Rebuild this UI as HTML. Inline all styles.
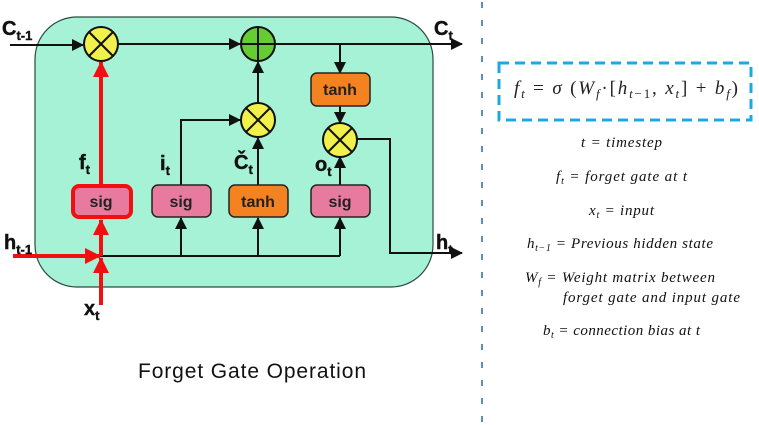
<!DOCTYPE html>
<html><head><meta charset="utf-8"><style>
html,body{margin:0;padding:0;background:#fff;width:759px;height:425px;overflow:hidden}
svg{display:block}
.lb{font-family:"Liberation Sans",sans-serif;font-weight:bold;fill:#111;stroke:#111;stroke-width:0.4}
.bx{font-family:"Liberation Sans",sans-serif;font-weight:bold;font-size:16px;fill:#222}
.m{font-family:"Liberation Serif",serif;font-style:italic;font-size:15px;fill:#111}
</style></head><body>
<svg width="759" height="425" viewBox="0 0 759 425" xmlns="http://www.w3.org/2000/svg">
<defs>
<marker id="a" markerWidth="12" markerHeight="12" refX="11" refY="6" orient="auto" markerUnits="userSpaceOnUse"><path d="M0,0 L12,6 L0,12 Z" fill="#111"/></marker>
<marker id="r" markerWidth="16" markerHeight="16" refX="15" refY="8" orient="auto" markerUnits="userSpaceOnUse"><path d="M0,0 L16,8 L0,16 Z" fill="#f01010"/></marker>
</defs>
<rect x="35" y="17" width="398" height="270" rx="42" fill="#a6f2d6" stroke="#2a4a40" stroke-width="1.2"/>
<g stroke="#111" stroke-width="2" fill="none">
<line x1="10" y1="45" x2="83" y2="45" marker-end="url(#a)"/>
<line x1="119" y1="44" x2="240" y2="44" marker-end="url(#a)"/>
<line x1="276" y1="44" x2="462" y2="44" marker-end="url(#a)"/>
<line x1="340" y1="44" x2="340" y2="73" marker-end="url(#a)"/>
<line x1="340" y1="106" x2="340" y2="123" marker-end="url(#a)"/>
<polyline points="357,139 390,139 390,253 462,253" marker-end="url(#a)"/>
<line x1="258" y1="103" x2="258" y2="62" marker-end="url(#a)"/>
<polyline points="181,185 181,120 240,120" marker-end="url(#a)"/>
<line x1="258" y1="185" x2="258" y2="138" marker-end="url(#a)"/>
<line x1="340" y1="185" x2="340" y2="157" marker-end="url(#a)"/>
<line x1="100" y1="256" x2="340" y2="256"/>
<line x1="181" y1="256" x2="181" y2="218" marker-end="url(#a)"/>
<line x1="258" y1="256" x2="258" y2="218" marker-end="url(#a)"/>
<line x1="340" y1="256" x2="340" y2="218" marker-end="url(#a)"/>
</g>
<g stroke="#f01010" stroke-width="4" fill="none">
<line x1="13" y1="256" x2="100" y2="256" marker-end="url(#r)"/>
<line x1="101" y1="305" x2="101" y2="258" marker-end="url(#r)"/>
<line x1="101" y1="256" x2="101" y2="220" marker-end="url(#r)"/>
<line x1="101" y1="185" x2="101" y2="62" marker-end="url(#r)"/>
</g>
<g stroke="#111" stroke-width="2">
<circle cx="101" cy="44" r="17" fill="#f2f04a"/>
<line x1="89" y1="32" x2="113" y2="56"/><line x1="113" y1="32" x2="89" y2="56"/>
<circle cx="258" cy="44" r="17" fill="#66cc33"/>
<line x1="258" y1="27" x2="258" y2="61"/><line x1="241" y1="44" x2="275" y2="44"/>
<circle cx="258" cy="120" r="17" fill="#f2f04a"/>
<line x1="246" y1="108" x2="270" y2="132"/><line x1="270" y1="108" x2="246" y2="132"/>
<circle cx="340" cy="140" r="17" fill="#f2f04a"/>
<line x1="328" y1="128" x2="352" y2="152"/><line x1="352" y1="128" x2="328" y2="152"/>
</g>
<rect x="73" y="186" width="58" height="31" rx="6" fill="#e87aa0" stroke="#f01010" stroke-width="4"/>
<rect x="152" y="185" width="59" height="32" rx="6" fill="#e87aa0" stroke="#222" stroke-width="1.5"/>
<rect x="229" y="185" width="59" height="32" rx="6" fill="#f58220" stroke="#222" stroke-width="1.5"/>
<rect x="311" y="185" width="59" height="32" rx="6" fill="#e87aa0" stroke="#222" stroke-width="1.5"/>
<rect x="311" y="73" width="59" height="33" rx="6" fill="#f58220" stroke="#222" stroke-width="1.5"/>
<text class="bx" x="101" y="207" text-anchor="middle">sig</text>
<text class="bx" x="181" y="207" text-anchor="middle">sig</text>
<text class="bx" x="258" y="207" text-anchor="middle">tanh</text>
<text class="bx" x="340" y="207" text-anchor="middle">sig</text>
<text class="bx" x="340" y="95" text-anchor="middle">tanh</text>
<text class="lb" x="2" y="35" font-size="20">C<tspan font-size="13" dy="5">t-1</tspan></text>
<text class="lb" x="434" y="35" font-size="20">C<tspan font-size="13" dy="5">t</tspan></text>
<text class="lb" x="79" y="169" font-size="20">f<tspan font-size="13" dy="5">t</tspan></text>
<text class="lb" x="160" y="170" font-size="20">i<tspan font-size="13" dy="5">t</tspan></text>
<text class="lb" x="234" y="169" font-size="20">Č<tspan font-size="13" dy="5">t</tspan></text>
<text class="lb" x="315" y="171" font-size="20">o<tspan font-size="13" dy="5">t</tspan></text>
<text class="lb" x="4" y="249" font-size="20">h<tspan font-size="13" dy="5">t-1</tspan></text>
<text class="lb" x="436" y="249" font-size="20">h<tspan font-size="13" dy="5">t</tspan></text>
<text class="lb" x="84" y="315" font-size="20">x<tspan font-size="13" dy="5">t</tspan></text>
<text x="252" y="378" text-anchor="middle" font-family="Liberation Sans,sans-serif" font-size="21" fill="#111" textLength="228">Forget Gate Operation</text>
<line x1="482" y1="2" x2="482" y2="425" stroke="#5b8fb9" stroke-width="2" stroke-dasharray="6,12"/>
<rect x="499" y="63" width="252" height="57" fill="none" stroke="#1fa8e0" stroke-width="3" stroke-dasharray="10,6"/>
<text x="514" y="94" font-family="Liberation Serif,serif" font-size="19" fill="#222" textLength="224"><tspan font-style="italic">f</tspan><tspan font-style="italic" font-size="13" dy="4">t</tspan><tspan dy="-4"> = </tspan><tspan font-style="italic">σ</tspan> (<tspan font-style="italic">W</tspan><tspan font-style="italic" font-size="13" dy="4">f</tspan><tspan dy="-4">·[</tspan><tspan font-style="italic">h</tspan><tspan font-size="13" dy="4"><tspan font-style="italic">t</tspan>−1</tspan><tspan dy="-4">, </tspan><tspan font-style="italic">x</tspan><tspan font-style="italic" font-size="13" dy="4">t</tspan><tspan dy="-4">]  +  </tspan><tspan font-style="italic">b</tspan><tspan font-style="italic" font-size="13" dy="4">f</tspan><tspan dy="-4">)</tspan></text>
<text class="m" x="581" y="147" textLength="81">t = timestep</text>
<text class="m" x="556" y="181" textLength="131">f<tspan font-size="10" dy="3">t</tspan><tspan dy="-3"> = forget gate at t</tspan></text>
<text class="m" x="589" y="215" textLength="65">x<tspan font-size="10" dy="3">t</tspan><tspan dy="-3"> = input</tspan></text>
<text class="m" x="527" y="248" textLength="186">h<tspan font-size="10" dy="3">t−1</tspan><tspan dy="-3"> = Previous hidden state</tspan></text>
<text class="m" x="525" y="282" textLength="190">W<tspan font-size="10" dy="3">f</tspan><tspan dy="-3"> = Weight matrix between</tspan></text>
<text class="m" x="563" y="302" textLength="177">forget gate and input gate</text>
<text class="m" x="543" y="335" textLength="157">b<tspan font-size="10" dy="3">t</tspan><tspan dy="-3"> = connection bias at t</tspan></text>
</svg>
</body></html>
